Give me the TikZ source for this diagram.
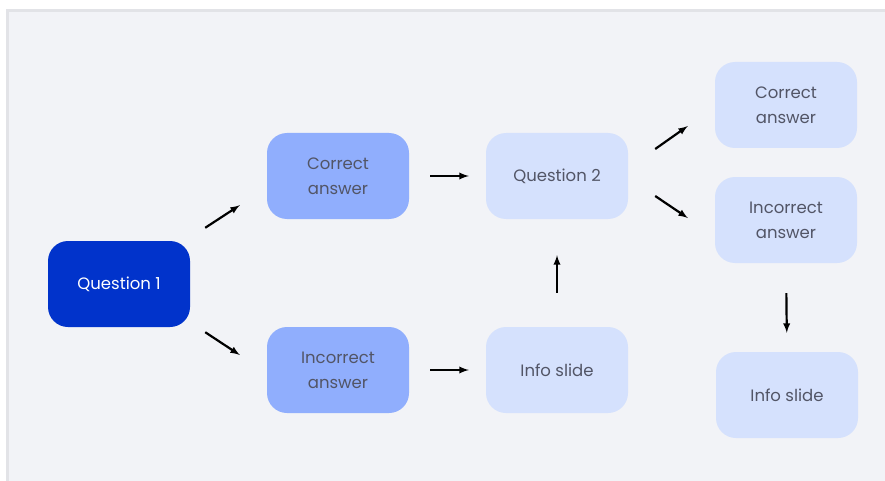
\documentclass[tikz,border=0pt]{standalone}
\usepackage{fontspec}
\setmainfont{Poppins}
\usepackage{tikz}
\usetikzlibrary{arrows}
\usetikzlibrary{calc}

\definecolor{panel}{HTML}{F2F3F7}
\definecolor{panelrule}{HTML}{E2E3E7}
\definecolor{qdark}{HTML}{0133CB}
\definecolor{qmid}{HTML}{90AEFD}
\definecolor{qlight}{HTML}{D5E1FD}
\definecolor{txtgray}{HTML}{525566}

\tikzset{
	box/.style={rounded corners=20pt, minimum width=142pt, minimum height=86pt,
		align=center, font=\fontsize{16.5}{25}\selectfont, text=txtgray, inner sep=0pt},
	darkbox/.style={box, fill=qdark, text=white},
	midbox/.style={box, fill=qmid},
	lightbox/.style={box, fill=qlight},
	arr/.style={-latex, line width=2.2pt, black}
}

\begin{document}
\begin{tikzpicture}[x=1pt, y=-1pt]
		\useasboundingbox (0,0) rectangle (885,481);
		\fill[white] (0,0) rectangle (885,481);
		\fill[panel] (6,9) rectangle (885,481);
		\draw[panelrule, line width=3pt] (7.5,481) -- (7.5,10.5) -- (885,10.5);
		
		\node[darkbox] (q1) at (119,284) {Question 1};
		\node[midbox] (c1) at (338,176) {Correct\\answer};
		\node[midbox] (i1) at (338,370) {Incorrect\\answer};
		\node[lightbox] (q2) at (557,176) {Question 2};
		\node[lightbox] (s1) at (557,370) {Info slide};
		\node[lightbox] (c2) at (786,105) {Correct\\answer};
		\node[lightbox] (i2) at (786,220) {Incorrect\\answer};
		\node[lightbox] (s2) at (787,395) {Info slide};
		
		\draw[arr] ($(q1.north east)+(15,-13)$) -- ($(c1.south west)+(-27,-14)$);
		\draw[arr] ($(q1.south east)+(15,5)$) -- ($(i1.west)+(-27,-15)$);
		\draw[arr, shorten <=21pt, shorten >=17pt] (c1.east) -- (q2.west);
		\draw[arr, shorten <=21pt, shorten >=17pt] (i1.east) -- (s1.west);
		\draw[arr, shorten <=34pt, shorten >=36pt] (s1.north) -- (q2.south);
		\draw[arr] ($(q2.east)+(27,-27)$) -- ($(c2.west)+(-27,21)$);
		\draw[arr] ($(q2.east)+(27,20)$) -- ($(i2.west)+(-27,-2)$);
		\draw[arr, shorten <=30pt, shorten >=19pt] (i2.south) -- (s2.north);
	\end{tikzpicture}
\end{document}
